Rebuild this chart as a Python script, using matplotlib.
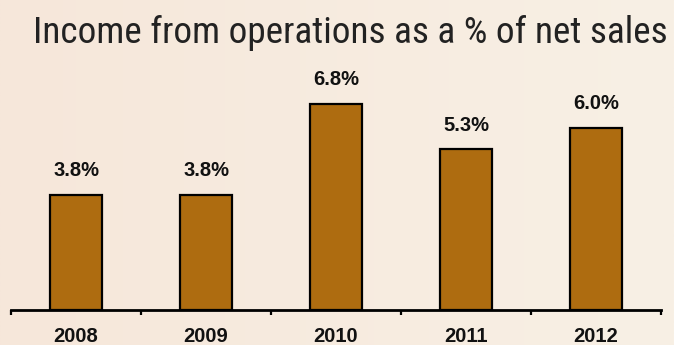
import numpy as np
import matplotlib
matplotlib.use("Agg")
import matplotlib.pyplot as plt
from matplotlib.colors import LinearSegmentedColormap

# Data
years = ["2008", "2009", "2010", "2011", "2012"]
margin_pct = [3.8, 3.8, 6.8, 5.3, 6.0]
value_labels = ["3.8%", "3.8%", "6.8%", "5.3%", "6.0%"]
title = "Income from operations as a % of net sales"

BAR_COLOR = "#AE6C10"
BG_LEFT = "#F6E7DA"
BG_RIGHT = "#F8F0E5"

fig = plt.figure(figsize=(6.74, 3.45), dpi=100)

# Warm parchment backdrop
bg = fig.add_axes([0, 0, 1, 1], zorder=-10)
bg.set_axis_off()
grad = np.linspace(0, 1, 256).reshape(1, -1)
cmap = LinearSegmentedColormap.from_list("parchment", [BG_LEFT, BG_RIGHT])
bg.imshow(grad, aspect="auto", cmap=cmap, extent=[0, 1, 0, 1])

ax = fig.add_axes([11 / 674, 35 / 345, 650 / 674, 272 / 345])
ax.patch.set_alpha(0)

x = np.arange(len(years))
bars = ax.bar(x, margin_pct, width=0.4, color=BAR_COLOR,
              edgecolor="black", linewidth=1.6, zorder=3)

for xi, v, lab in zip(x, margin_pct, value_labels):
    ax.annotate(lab, (xi, v), xytext=(0, 13.5), textcoords="offset points",
                ha="center", va="baseline", fontsize=14.5, fontweight="bold",
                family="Liberation Sans", color="#111111")

ax.set_xlim(-0.5, len(years) - 0.5)
ax.set_ylim(0, 272 / 30.3)

for side in ("left", "right", "top"):
    ax.spines[side].set_visible(False)
ax.spines["bottom"].set_linewidth(2.0)
ax.spines["bottom"].set_color("black")
ax.spines["bottom"].set_zorder(4)

ax.set_yticks([])
ax.set_xticks(np.arange(-0.5, len(years)), minor=False)
ax.set_xticklabels([])
ax.tick_params(axis="x", which="major", direction="out", length=3.5,
               width=1.6, color="black")
ax.set_xticks(x, minor=True)
ax.set_xticklabels(years, minor=True)
ax.tick_params(axis="x", which="minor", length=0, pad=12)
for t in ax.get_xticklabels(minor=True):
    t.set_fontsize(14.5)
    t.set_fontweight("bold")
    t.set_family("Liberation Sans")
    t.set_color("#111111")

# Title in a condensed face, sized to span the header width
title_txt = fig.text(350 / 674, 1 - 43 / 345, title, ha="center", va="baseline",
                     fontsize=27, family="Roboto Condensed", fontweight="normal",
                     color="#222222")
renderer = fig.canvas.get_renderer()
w = title_txt.get_window_extent(renderer).width
title_txt.set_fontsize(27 * 636 / w)

fig.savefig("out.png", dpi=100)
